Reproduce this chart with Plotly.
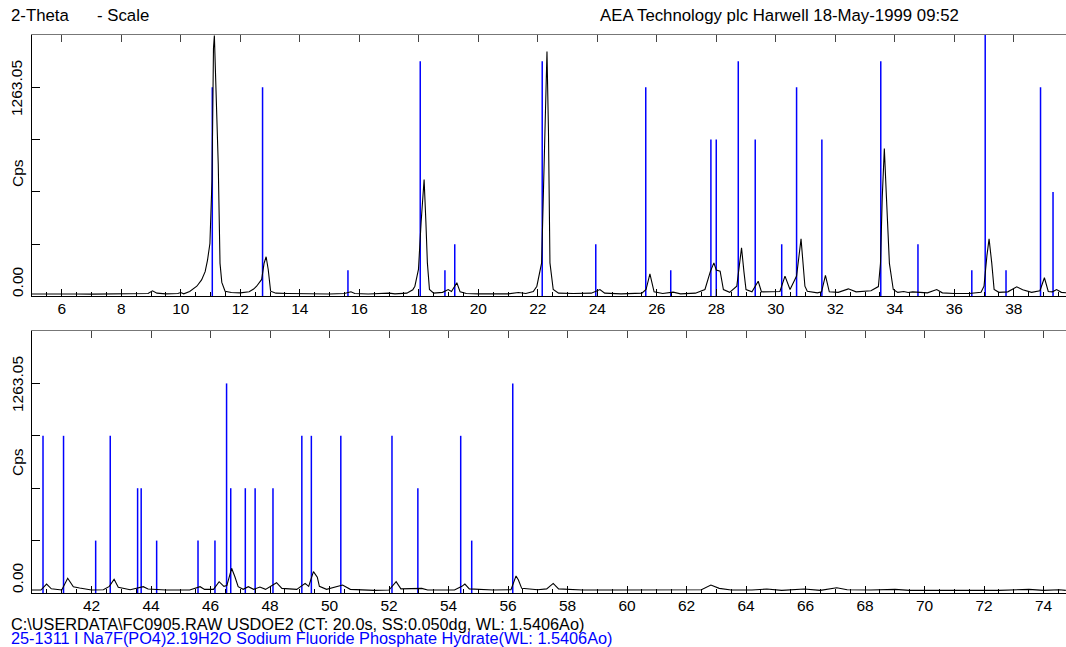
import plotly.graph_objects as go

# ---------------- data ----------------
two_theta = [
    5.00, 5.5, 6.0, 6.5, 7.0, 7.5, 8.0, 8.5, 8.9, 9.05, 9.2, 9.5, 9.9, 10.0, 10.1,
    10.3, 10.54, 10.7, 10.82, 10.9, 10.98, 11.05, 11.1, 11.13, 11.18, 11.26, 11.32,
    11.38, 11.49, 11.7, 12.0, 12.3, 12.45, 12.55, 12.72, 12.8, 12.87, 12.94, 13.02,
    13.2, 13.6, 14.0, 14.5, 15.0, 15.5, 15.72, 15.85, 16.3, 17.0, 17.2, 17.6, 17.8,
    17.87, 17.99, 18.08, 18.18, 18.24, 18.29, 18.36, 18.5, 18.8, 18.99, 19.1, 19.28,
    19.39, 19.6, 20.0, 20.5, 21.0, 21.35, 21.6, 21.85, 21.97, 22.13, 22.22, 22.31,
    22.36, 22.41, 22.52, 22.7, 23.2, 23.8, 24.09, 24.25, 24.8, 25.5, 25.64, 25.77,
    25.91, 26.2, 26.55, 26.8, 27.3, 27.62, 27.8, 27.92, 28.0, 28.13, 28.24, 28.45,
    28.69, 28.85, 28.93, 29.0, 29.2, 29.41, 29.52, 29.9, 30.14, 30.31, 30.48, 30.70,
    30.85, 30.98, 31.06, 31.4, 31.54, 31.67, 31.8, 32.1, 32.44, 32.7, 33.2, 33.45,
    33.52, 33.58, 33.65, 33.72, 33.82, 33.95, 34.1, 34.3, 34.45, 34.6, 34.8, 35.1,
    35.41, 35.6, 36.0, 36.5, 36.9, 37.0, 37.1, 37.17, 37.26, 37.34, 37.5, 37.8, 38.1,
    38.3, 38.6, 38.88, 39.03, 39.16, 39.3, 39.44, 39.6, 39.8,
    40.0, 40.3, 40.49, 40.65, 41.0, 41.2, 41.39, 41.6, 42.0, 42.4, 42.6, 42.76, 42.9,
    43.3, 43.74, 43.9, 44.5, 45.3, 45.65, 45.8, 46.1, 46.29, 46.45, 46.55, 46.71,
    46.82, 46.93, 47.1, 47.27, 47.45, 47.66, 47.85, 48.22, 48.4, 48.9, 49.18, 49.3,
    49.46, 49.52, 49.59, 49.66, 49.9, 50.44, 50.7, 51.5, 52.0, 52.24, 52.4, 53.1,
    53.3, 54.2, 54.45, 54.55, 54.7, 55.5, 56.1, 56.27, 56.35, 56.46, 57.0, 57.3,
    57.52, 57.7, 58.5, 59.5, 60.5, 61.5, 62.5, 62.82, 63.1, 63.5, 64.2, 64.7, 65.2,
    65.96, 66.5, 67.05, 67.4, 68.2, 69.01, 69.5, 70.5, 71.5, 72.5, 73.51, 74.0,
    74.53, 74.75,
]
counts = [
    15, 16, 14, 15, 14, 15, 14, 16, 18, 34, 20, 16, 18, 24, 16,
    30, 62, 100, 150, 220, 320, 700, 1500, 1575, 1300, 800, 200,
    85, 32, 24, 22, 28, 45, 62, 103, 200, 240, 163, 32,
    20, 18, 16, 16, 15, 18, 28, 18, 15, 20, 16, 20, 40,
    62, 163, 450, 706, 450, 203, 42, 20, 25, 42, 30, 83,
    28, 18, 16, 18, 16, 24, 18, 30, 62, 203, 800, 1479,
    1000, 203, 42, 20, 18, 20, 42, 20, 16, 20, 42, 137,
    28, 18, 26, 16, 20, 42, 150, 203, 160, 153, 42, 25,
    62, 294, 150, 42, 28, 92, 28, 28, 30, 123, 42, 123,
    348, 62, 32, 22, 28, 127, 28, 25, 46, 28, 35, 60,
    200, 600, 893, 600, 200, 42, 25, 30, 24, 28, 25, 22,
    42, 22, 18, 18, 25, 62, 250, 348, 203, 42, 25, 28, 58,
    40, 25, 35, 113, 30, 28, 42, 25, 20,
    18, 18, 54, 25, 18, 89, 38, 30, 18, 20, 40, 83, 35,
    20, 38, 24, 18, 18, 38, 22, 22, 68, 40, 45, 149,
    98, 38, 22, 38, 22, 36, 22, 62, 28, 22, 58, 40,
    129, 110, 95, 40, 22, 48, 22, 16, 18, 68, 25, 28,
    18, 18, 40, 54, 25, 18, 20, 103, 78, 28, 20, 25,
    58, 25, 18, 18, 20, 18, 20, 48, 28, 18, 18, 24, 16,
    24, 16, 32, 20, 18, 22, 16, 16, 16, 16, 22, 16,
    20, 16,
]

# reference pattern 25-1311 (positions in 2-theta, intensities in % of full scale)
stick_pos = [
    11.06, 12.75, 15.62, 18.05, 18.88, 19.21, 22.15, 23.95, 25.63, 26.47, 27.82,
    28.00, 28.74, 29.31, 30.20, 30.70, 31.55, 33.53, 34.78, 36.59, 37.04, 37.74,
    38.90, 39.32,
    40.37, 41.06, 42.14, 42.63, 43.55, 43.67, 44.19, 45.58, 46.15, 46.54, 46.68,
    47.17, 47.50, 48.10, 49.07, 49.39, 50.38, 52.10, 52.97, 54.41, 54.78, 56.16,
]
stick_rel = [
    80, 80, 10, 90, 10, 20, 90, 20, 80, 10, 60,
    60, 90, 60, 20, 80, 60, 90, 20, 10, 100, 10,
    80, 40,
    60, 60, 20, 60, 40, 40, 20, 20, 20, 80, 40,
    40, 40, 40, 60, 60, 60, 60, 40, 60, 20, 80,
]

label_value = 1263.05            # labelled tick on the Cps axis
full_scale = label_value / 0.8   # top of each panel
ytick_vals = [label_value / 4 * k for k in range(1, 5)]
xrange_top = [5.0, 39.756]
xrange_bot = [40.0, 74.756]
xticks_top = list(range(6, 40, 2))
xticks_bot = list(range(42, 76, 2))

header_left_1 = "2-Theta"
header_left_2 = "- Scale"
header_right = "AEA Technology plc Harwell 18-May-1999 09:52"
footer_1 = "C:\\USERDATA\\FC0905.RAW USDOE2 (CT: 20.0s, SS:0.050dg, WL: 1.5406Ao)"
footer_2 = "25-1311 I Na7F(PO4)2.19H2O Sodium Fluoride Phosphate Hydrate(WL: 1.5406Ao)"

# ---------------- figure ----------------
FONT = "Liberation Sans, Arial, Helvetica, sans-serif"
BLUE = "#0000ff"

sx, sy = [], []
for p, r in zip(stick_pos, stick_rel):
    sx += [p, p, None]
    sy += [0, full_scale * r / 100.0, None]

fig = go.Figure()
for xa, ya in (("x", "y"), ("x2", "y2")):
    fig.add_trace(go.Scatter(x=sx, y=sy, mode="lines", xaxis=xa, yaxis=ya,
                             line=dict(color=BLUE, width=1.5), hoverinfo="skip",
                             showlegend=False))
    fig.add_trace(go.Scatter(x=two_theta, y=counts, mode="lines", xaxis=xa, yaxis=ya,
                             line=dict(color="black", width=1.1), showlegend=False))
# dummy traces for the top (mirror) tick axes
fig.add_trace(go.Scatter(x=[None], y=[None], xaxis="x3", yaxis="y", showlegend=False))
fig.add_trace(go.Scatter(x=[None], y=[None], xaxis="x4", yaxis="y2", showlegend=False))

top_dom = [0.5314, 1.0]
bot_dom = [0.0, 0.4695]

def xax(rng, anchor, tv):
    return dict(range=rng, anchor=anchor, domain=[0, 1], tickmode="array", tickvals=tv,
                ticks="inside", ticklen=7, tickcolor="black", tickwidth=1,
                showline=True, linecolor="black", linewidth=1,
                showgrid=False, zeroline=False, ticklabelstandoff=-2,
                tickfont=dict(family=FONT, size=15.5, color="black"),
                minor=dict(dtick=0.5, tick0=0, ticks="inside", ticklen=4,
                           tickcolor="black", showgrid=False))

def xtop(rng, anchor, over, tv):
    return dict(range=rng, anchor=anchor, overlaying=over, side="top",
                tickmode="array", tickvals=tv,
                ticks="inside", ticklen=7, tickcolor="#444", tickwidth=1,
                showline=True, linecolor="#777", linewidth=1,
                showgrid=False, zeroline=False, showticklabels=False)

def yax(dom, anchor):
    return dict(domain=dom, anchor=anchor, range=[0, full_scale], tickvals=ytick_vals,
                ticks="inside", ticklen=8, tickcolor="black", showticklabels=False,
                showline=True, linecolor="black", linewidth=1,
                showgrid=False, zeroline=False)

fig.update_layout(
    width=1066, height=647,
    margin=dict(l=32, r=0, t=35, b=54),
    paper_bgcolor="white", plot_bgcolor="white",
    font=dict(family=FONT, color="black"),
    xaxis=xax(xrange_top, "y", xticks_top),
    xaxis2=xax(xrange_bot, "y2", xticks_bot),
    xaxis3=xtop(xrange_top, "y", "x", xticks_top),
    xaxis4=xtop(xrange_bot, "y2", "x2", xticks_bot),
    yaxis=yax(top_dom, "x"),
    yaxis2=yax(bot_dom, "x2"),
    showlegend=False,
)

ann = []
def txt(text, x, y, size=15, color="black", xanchor="left", yanchor="middle", angle=0):
    ann.append(dict(text=text, x=x, y=y, xref="paper", yref="paper", showarrow=False,
                    xanchor=xanchor, yanchor=yanchor, textangle=angle,
                    font=dict(family=FONT, size=size, color=color)))

W, H, L, T, B = 1066, 647, 32, 35, 54
def px(xp):
    return (xp - L) / (W - L)
def py(yp):
    return 1 - (yp - T) / (H - T - B)

txt(header_left_1, px(9), py(15), size=16.8)
txt(header_left_2, px(95), py(15), size=16.8)
txt(header_right, px(598), py(15), size=16.8)
txt(footer_1, px(9), py(623.5), size=16.3)
txt(footer_2, px(9), py(638), size=16.3, color=BLUE)

# y-axis labels (rotated)
for yt, yz, yc in ((88, 282, 173), (384, 578, 462)):
    txt("1263.05", px(17), py(yt), size=15.5, xanchor="center", angle=-90)
    txt("0.00", px(17), py(yz), size=15.5, xanchor="center", angle=-90)
    txt("Cps", px(17), py(yc), size=15.5, xanchor="center", angle=-90)

fig.update_layout(annotations=ann)
fig.write_html("out.html")
